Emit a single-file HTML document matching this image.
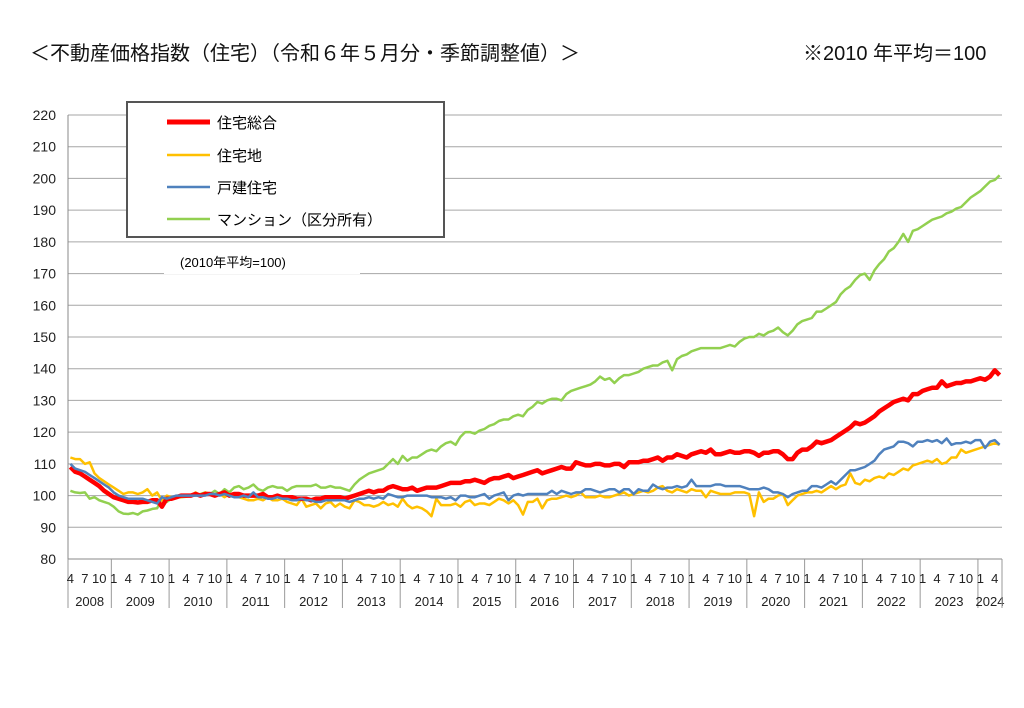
<!DOCTYPE html>
<html><head><meta charset="utf-8">
<style>
body{margin:0;background:#fff;width:1024px;height:703px;overflow:hidden;font-family:"Liberation Sans","Noto Sans CJK JP",sans-serif}
svg text{font-family:"Liberation Sans","Noto Sans CJK JP",sans-serif}
</style></head>
<body>
<svg id="chart" width="1024" height="703" viewBox="0 0 1024 703" xmlns="http://www.w3.org/2000/svg">
<text x="30" y="60" font-size="20" fill="#111">＜不動産価格指数（住宅）（令和６年５月分・季節調整値）＞</text>
<text x="803" y="60" font-size="20" fill="#111">※2010 年平均＝100</text>
<g id="grid"></g><g id="axes"></g><g id="series"></g>
<g>
<rect x="127" y="102" width="317" height="135" fill="#fff" stroke="#555" stroke-width="2"/>
<g><line x1="167" y1="122" x2="210" y2="122" stroke="#ff0000" stroke-width="5"/><text x="217" y="128" font-size="15">住宅総合</text></g>
<g><line x1="167" y1="155" x2="210" y2="155" stroke="#ffc000" stroke-width="2.5"/><text x="217" y="161" font-size="15">住宅地</text></g>
<g><line x1="167" y1="187" x2="210" y2="187" stroke="#4f81bd" stroke-width="2.5"/><text x="217" y="193" font-size="15">戸建住宅</text></g>
<g><line x1="167" y1="219" x2="210" y2="219" stroke="#92d050" stroke-width="2.5"/><text x="217" y="225" font-size="15">マンション（区分所有）</text></g>
</g>
<rect x="164" y="250" width="196" height="24" fill="#fff"/>
<text x="180" y="267" font-size="13">(2010年平均=100)</text>
</svg>
<script>
const yTicks=[80,90,100,110,120,130,140,150,160,170,180,190,200,210,220];
const years=[2008,2009,2010,2011,2012,2013,2014,2015,2016,2017,2018,2019,2020,2021,2022,2023,2024];
const condo=[
[101.5,101,100.8,101,99,99.5,98.5,98,97.5],
[96.5,95,94.3,94.2,94.5,94,95,95.3,95.8,96,99,98],
[99,99.5,99.5,99.6,100,100,100.5,101,100.5,101.5,100.5,102],
[101,102.5,103,102,102.5,103.5,102,101.5,102.5,103,102.5,102.5],
[101.5,102.5,103,103,103,103,103.5,102.5,102.5,103,102.5,102.5],
[102,101.5,103.5,105,106,107,107.5,108,108.5,110,111.5,110],
[112.5,111,112,112,113,114,114.5,114,115.5,116.5,117,116],
[118.5,120,120,119.5,120.5,121,122,122.5,123.5,124,124,125],
[125.5,125,127,128,129.5,129,130,130.5,130.5,130,132,133],
[133.5,134,134.5,135,136,137.5,136.5,137,135.5,137,138,138],
[138.5,139,140,140.5,141,141,142,142.5,139.5,143,144,144.5],
[145.5,146,146.5,146.5,146.5,146.5,146.5,147,147.5,147,148.5,149.5],
[150,150,151,150.5,151.5,152,153,151.5,150.5,152,154,155],
[155.5,156,158,158,159,160,161,163.5,165,166,168,169.5],
[170,168,171,173,174.5,177,178,180,182.5,180,183.5,184],
[185,186,187,187.5,188,189,189.5,190.5,191,192.5,194,195],
[196,197.5,199,199.5,201]];
const total=[
[109,107.5,107,106,105,104,103,101.5,100.5],
[99.5,99,98.5,98,98,97.8,98,98,98.5,98.5,96.5,99],
[99,99.5,100,100,100,100.5,100,100.5,100.5,100,100.5,101],
[100,100.5,100.5,100,100,100,100,100.5,99.5,99.5,100,99.5],
[99.5,99.5,99,99,99,98.5,99,99,99.5,99.5,99.5,99.5],
[99,99.5,100,100.5,101,101.5,101,101.5,101.5,102.5,103,102.5],
[102,102,102.5,101.5,102,102.5,102.5,102.5,103,103.5,104,104],
[104,104.5,104.5,105,104.5,104,105,105.5,105.5,106,106.5,105.5],
[106,106.5,107,107.5,108,107,107.5,108,108.5,109,108.5,108.5],
[110.5,110,109.5,109.5,110,110,109.5,109.5,110,110,109,110.5],
[110.5,110.5,111,111,111.5,112,111,112,112,113,112.5,112],
[113,113.5,114,113.5,114.5,113,113,113.5,114,113.5,113.5,114],
[114,113.5,112.5,113.5,113.5,114,114,113,111.5,111.5,113.5,114.5],
[114.5,115.5,117,116.5,117,117.5,118.5,119.5,120.5,121.5,123,122.5],
[123,124,125,126.5,127.5,128.5,129.5,130,130.5,130,132,132],
[133,133.5,134,134,136,134.5,135,135.5,135.5,136,136,136.5],
[137,136.5,137.5,139.5,138]];
const land=[
[112,111.5,111.5,110,110.5,107,105.5,104.5,103.5],
[102.5,101.5,100.5,101,101,100.5,101,102,100,101,98.5,100],
[99.5,99.5,99.5,100,100,101,100,101,100.5,100,100.5,99.5],
[100.5,100,99.5,99,98.5,98.5,99,98.5,99.5,98.5,98.5,99],
[98,97.5,97,99,96.5,97,97.5,96,97.5,98,96.5,97.5],
[96.5,96,98.5,98,97,97,96.5,97,98,97,97.5,96.5],
[99,97,96,96.5,96,95,93.5,99,97,97,97,97.5],
[96.5,98,98.5,97,97.5,97.5,97,98,99,98.5,97.5,98.5],
[97,94,98,98,99,96,98.5,99,99,99.5,100,99.5],
[100,101,99.5,99.5,99.5,100,99.5,99.5,100,100.5,101,100],
[100.5,101,101.5,101,101.5,102.5,103,101.5,101,102,101.5,101],
[102,101.5,101.5,99.5,101.5,101,100.5,100.5,100.5,101,101,101],
[100.5,93.5,101,98,99,99,100,100.5,97,98.5,100,100.5],
[101,101,101.5,101,102,103,102,103,103.5,107,104,103.5],
[105,104.5,105.5,106,105.5,107,106.5,107.5,108.5,108,109.5,110],
[110.5,111,110.5,111.5,110,110.5,112,112,114.5,113.5,114,114.5],
[115,115.5,116,116.5,116]];
const detached=[
[110,108.5,108,107.5,106.5,105.5,104.5,103.5,102.5],
[101,100,99.5,99,99,99,99,98.5,98,97.5,99.5,99],
[99.5,100,100,100,100,100,100,100,100.5,100.5,100,100.5],
[100,99.5,99.5,100,99.5,101,99.5,99.5,99,99,99.5,99],
[99,98.5,98.5,99,98.5,98.5,98,98,98.5,98.5,98.5,98.5],
[98.5,98,98.5,99,99,99.5,99,99.5,99,100.5,100,99.5],
[99.5,100,100,100,100,100,99.5,99.5,99.5,99,99.5,98.5],
[100,100,99.5,99.5,100,100.5,99,100,100.5,101,98.5,100],
[100.5,100,100.5,100.5,100.5,100.5,100.5,101.5,100.5,101.5,101,100.5],
[101,101,102,102,101.5,101,101.5,102,102,101,102,102],
[100.5,102,101.5,101.5,103.5,102.5,102,102.5,102.5,103,102.5,103],
[105,103,103,103,103,103.5,103.5,103,103,103,103,102.5],
[102,102,102,102.5,102,101,101,100.5,99.5,100.5,101,101.5],
[101.5,103,103,102.5,103.5,104.5,103.5,105,106.5,108,108,108.5],
[109,110,111,113,114.5,115,115.5,117,117,116.5,115.5,117],
[117,117.5,117,117.5,116.5,118,116,116.5,116.5,117,116.5,117.5],
[117.5,115,117,117.5,116]];

const NS="http://www.w3.org/2000/svg";
const X0=68,X1=1002,Y0=559,Y1=115,VMIN=80,VMAX=220;
const nMonths=condo.flat().length;
const bw=(X1-X0)/nMonths;
function xOf(i){return X0+bw*(i+0.5);}
function yOf(v){return Y0-(v-VMIN)/(VMAX-VMIN)*(Y0-Y1);}
function mk(tag,attrs,parent){const e=document.createElementNS(NS,tag);for(const k in attrs)e.setAttribute(k,attrs[k]);parent.appendChild(e);return e;}
const grid=document.getElementById('grid'),axes=document.getElementById('axes'),ser=document.getElementById('series');
yTicks.forEach(t=>{
  if(t>VMIN){const l=mk('line',{x1:X0,x2:X1,y1:yOf(t),y2:yOf(t),stroke:'#a6a6a6','stroke-width':1},grid);
  
  }
  const tx=mk('text',{x:56,y:yOf(t)+5,'font-size':14,'text-anchor':'end',fill:'#222'},axes);
  tx.textContent=t;
  
  
});
mk('line',{x1:X0,x2:X0,y1:Y1,y2:Y0,stroke:'#888','stroke-width':1},axes);
mk('line',{x1:X0,x2:X1,y1:Y0,y2:Y0,stroke:'#888','stroke-width':1},axes);
let idx=0;
years.forEach((yr,yi)=>{
  const startMonth=yi===0?4:1;const len=condo[yi].length;
  const xs=X0+bw*idx,xe=X0+bw*(idx+len);
  const sep=mk('line',{x1:xs,x2:xs,y1:Y0,y2:608,stroke:'#999','stroke-width':1},axes);
  
  
  for(let k=0;k<len;k++){const m=startMonth+k;
    if(m===1||m===4||m===7||m===10){const t=mk('text',{x:xOf(idx+k),y:583,'font-size':13,'text-anchor':'middle',fill:'#222'},axes);t.textContent=m;
    
    }}
  const yt=mk('text',{x:(xs+xe)/2,y:606,'font-size':13,'text-anchor':'middle',fill:'#222'},axes);
  yt.textContent=yr;
  
  
  idx+=len;
});
mk('line',{x1:X1,x2:X1,y1:Y0,y2:608,stroke:'#999','stroke-width':1},axes);
function draw(data,color,w,name){
  const pts=data.flat().map((v,i)=>xOf(i).toFixed(1)+','+yOf(v).toFixed(1)).join(' ');
  const p=mk('polyline',{points:pts,fill:'none',stroke:color,'stroke-width':w,'stroke-linejoin':'round'},ser);
  
  
}
draw(condo,'#92d050',2.5,'series-condo');
draw(land,'#ffc000',2.5,'series-residential-land');
draw(detached,'#4f81bd',2.5,'series-detached-house');
draw(total,'#ff0000',4.5,'series-total-residential');
ser.appendChild(ser.children[2]);
</script>
</body></html>
